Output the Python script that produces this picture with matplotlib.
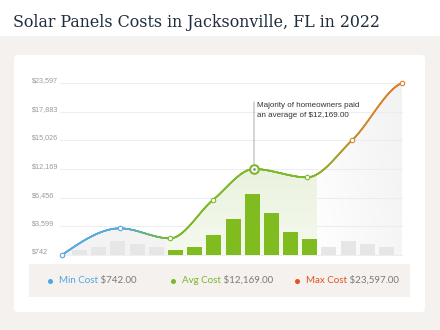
import numpy as np
import matplotlib
matplotlib.use('Agg')
import matplotlib.pyplot as plt
from matplotlib.patches import FancyBboxPatch, Rectangle, Polygon
from matplotlib.collections import LineCollection
from matplotlib.colors import to_rgb
import matplotlib.transforms as mtransforms

# ---------------- data ----------------
title = "Solar Panels Costs in Jacksonville, FL in 2022"
tick_vals = [742, 3599, 6456, 12169, 15026, 17883, 23597]
tick_labels = ['$742', '$3,599', '$6,456', '$12,169', '$15,026', '$17,883', '$23,597']
point_pos = [0, 58, 108, 151, 192, 245, 290, 340]
point_cost = [742, 3400, 2400, 6230, 12169, 10510, 15026, 23597]
bar_counts = [5, 8, 14, 11, 8, 5, 8, 20, 36, 61, 42, 23, 16, 8, 14, 11, 8]
bar_highlight = [0, 0, 0, 0, 0, 1, 1, 1, 1, 1, 1, 1, 1, 0, 0, 0, 0]
avg_band = (105, 255)
highlight_index = 4
note = "Majority of homeowners paid\nan average of $12,169.00"
legend_names = ['Min Cost', 'Avg Cost', 'Max Cost']
legend_values = ['$742.00', '$12,169.00', '$23,597.00']

# ---------------- style ----------------
BEIGE = '#f4f1ee'
BLUE = '#58a9de'
GREEN = '#7cb82a'
ORANGE = '#df7f2a'
BAR_GREEN = '#80bb1f'
BAR_GRAY = '#e6e6e6'
legend_colors = ['#4fa6e3', '#7ab72a', '#e1541c']

W, H = 440, 330
fig = plt.figure(figsize=(W / 100, H / 100), dpi=100, facecolor=BEIGE)

def fx(px):
    return px / W

def fy(py):
    return 1 - py / H

# background layer
bg = fig.add_axes([0, 0, 1, 1], zorder=0)
bg.set_xlim(0, W)
bg.set_ylim(H, 0)
bg.axis('off')
bg.add_patch(Rectangle((0, 0), W, 36, color='white', lw=0))
bg.add_patch(FancyBboxPatch((14, 55), 411, 257, boxstyle='round,pad=0,rounding_size=4',
                            fc='white', ec='none'))
bg.add_patch(Rectangle((29, 264), 381, 33, color=BEIGE, lw=0))
bg.text(13, 27, title, fontsize=11.4, family='DejaVu Serif', color='#1f2d3d',
        va='baseline', ha='left')

# legend
leg_x = [50, 173, 297]
for i in range(3):
    bg.plot([leg_x[i]], [280.5], 'o', ms=3.6, color=legend_colors[i], mec='none')
    t = bg.text(leg_x[i] + 9, 280.5, legend_names[i], color=legend_colors[i],
                fontsize=7, family='Lato', va='center', ha='left')
    bg.annotate(' ' + legend_values[i], xy=(1, 0.5), xycoords=t, color='#7a7a7a',
                fontsize=7, family='Lato', va='center', ha='left')

# ---------------- scale ----------------
levels = np.arange(len(tick_vals), dtype=float)
tv = np.array(tick_vals, float)

def fwd(v):
    v = np.asarray(v, float)
    out = np.interp(v, tv, levels)
    out = np.where(v < tv[0], (v - tv[0]) / (tv[1] - tv[0]), out)
    out = np.where(v > tv[-1], levels[-1] + (v - tv[-1]) / (tv[-1] - tv[-2]), out)
    return out

def inv(l):
    l = np.asarray(l, float)
    out = np.interp(l, levels, tv)
    out = np.where(l < 0, tv[0] + l * (tv[1] - tv[0]), out)
    out = np.where(l > levels[-1], tv[-1] + (l - levels[-1]) * (tv[-1] - tv[-2]), out)
    return out

rect = [fx(62), fy(255), fx(340), 172 / H]
ax = fig.add_axes(rect, zorder=1)
ax.set_yscale('function', functions=(fwd, inv))
ax.set_xlim(0, 340)
ax.set_ylim(tick_vals[0], tick_vals[-1])
ax.axis('off')

# gridlines + labels
for v, lab in zip(tick_vals, tick_labels):
    ax.plot([-2, 340], [v, v], color='#eeeeee', lw=0.8, clip_on=False, zorder=0)
    tr = mtransforms.blended_transform_factory(fig.transFigure, ax.transData)
    ax.text(fx(32), v, lab, transform=tr + mtransforms.ScaledTranslation(0, 2.5 / 100, fig.dpi_scale_trans),
            fontsize=5.2, family='Liberation Sans', color='#9a9a9a', va='center', ha='left')

# ---------------- spline in level space ----------------
px = np.array(point_pos, float)
py = fwd(point_cost)
h = np.diff(px)
d = np.diff(py) / h
n = len(px)
m = np.zeros(n)
for k in range(1, n - 1):
    if d[k - 1] * d[k] <= 0:
        m[k] = 0
    else:
        w1 = 2 * h[k] + h[k - 1]
        w2 = h[k] + 2 * h[k - 1]
        m[k] = (w1 + w2) / (w1 / d[k - 1] + w2 / d[k])
m[0] = 1.5 * d[0] - 0.5 * m[1]
m[-1] = 0.35 * d[-1]

xs = np.linspace(0, 340, 1200)
idx = np.clip(np.searchsorted(px, xs) - 1, 0, n - 2)
t = (xs - px[idx]) / h[idx]
h00 = 2 * t**3 - 3 * t**2 + 1
h10 = t**3 - 2 * t**2 + t
h01 = -2 * t**3 + 3 * t**2
h11 = t**3 - t**2
ys_lvl = h00 * py[idx] + h10 * h[idx] * m[idx] + h01 * py[idx + 1] + h11 * h[idx] * m[idx + 1]
ys = inv(ys_lvl)

# ---------------- fills ----------------
left = xs <= avg_band[0]
ax.fill_between(xs[left], ys[left], tick_vals[0], color='#f3f3f3', lw=0, zorder=1)

axb = fig.add_axes(rect, zorder=2)
axb.set_xlim(0, 340)
axb.set_ylim(0, 172)
axb.axis('off')
axb.patch.set_alpha(0)

mid = (xs >= avg_band[0]) & (xs <= avg_band[1])
poly_mid = Polygon(np.column_stack([np.r_[xs[mid], xs[mid][-1], xs[mid][0]],
                                    np.r_[ys[mid], tick_vals[0], tick_vals[0]]]),
                   transform=ax.transData)
gy = np.linspace(0, 1, 100)[:, None] * np.ones((1, 2))
top_c = np.array(to_rgb('#e0ecce'))
bot_c = np.array(to_rgb('#f5f9ee'))
img = bot_c[None, None, :] * (1 - gy[..., None]) + top_c[None, None, :] * gy[..., None]
im = axb.imshow(img, extent=[avg_band[0], avg_band[1], 0, 172], origin='lower',
                aspect='auto', zorder=0, interpolation='bilinear')
im.set_clip_path(poly_mid)

right = xs >= avg_band[1]
poly_r = Polygon(np.column_stack([np.r_[xs[right], xs[right][-1], xs[right][0]],
                                  np.r_[ys[right], tick_vals[0], tick_vals[0]]]),
                 transform=ax.transData)
gx = np.linspace(0, 1, 100)[None, :]
gyy = np.linspace(0, 1, 100)[:, None]
alpha = np.clip(0.05 + 0.5 * gx + 0.2 * gyy, 0, 1) * 0.85
rimg = np.zeros((100, 100, 4))
rimg[..., :3] = to_rgb('#ebebeb')
rimg[..., 3] = alpha
im2 = axb.imshow(rimg, extent=[avg_band[1], 340, 0, 172], origin='lower',
                 aspect='auto', zorder=0, interpolation='bilinear')
im2.set_clip_path(poly_r)

# bars
bar_pos = 17.5 + 19.19 * np.arange(len(bar_counts))
axb.bar(bar_pos, bar_counts, width=15,
        color=[BAR_GREEN if b else BAR_GRAY for b in bar_highlight], zorder=2, lw=0)

# ---------------- curve ----------------
axl = fig.add_axes(rect, zorder=3, sharex=ax, sharey=ax)
axl.axis('off')
axl.patch.set_alpha(0)

stops_x = [0, 60, 110, 245, 300, 340]
stops_c = [BLUE, BLUE, GREEN, GREEN, '#cf8a30', ORANGE]
sc = np.array([to_rgb(c) for c in stops_c])

def col_at(x):
    return np.array([np.interp(x, stops_x, sc[:, j]) for j in range(3)]).T

pts = np.column_stack([xs, ys])
segs = np.stack([pts[:-1], pts[1:]], axis=1)
lc = LineCollection(segs, colors=col_at(0.5 * (xs[:-1] + xs[1:])), lw=1.2,
                    capstyle='round', zorder=3)
axl.add_collection(lc)

for i, (x, v) in enumerate(zip(point_pos, point_cost)):
    c = col_at(x)
    if i == highlight_index:
        axl.plot([x], [v], 'o', ms=6.2, mfc='white', mec=GREEN, mew=1.5, zorder=5, clip_on=False)
        axl.plot([x], [v], 'o', ms=2.0, color='#8a8a8a', mec='none', zorder=6, clip_on=False)
    else:
        axl.plot([x], [v], 'o', ms=3.2, mfc='white', mec=c, mew=0.8, zorder=5, clip_on=False)

# annotation
hx, hv = point_pos[highlight_index], point_cost[highlight_index]
axl.annotate('', xy=(hx, hv), xytext=(hx, 0.89), textcoords=('data', 'axes fraction'),
             arrowprops=dict(arrowstyle='-', color='#aaaaaa', lw=0.7, shrinkA=0, shrinkB=4))
axl.annotate(note, xy=(hx, 0.888), xycoords=('data', 'axes fraction'),
             xytext=(2.5, 0), textcoords='offset points', fontsize=5.8,
             family='Liberation Sans', color='#333333', va='top', ha='left',
             linespacing=1.45)

fig.savefig('out.png', dpi=100, facecolor=BEIGE)
